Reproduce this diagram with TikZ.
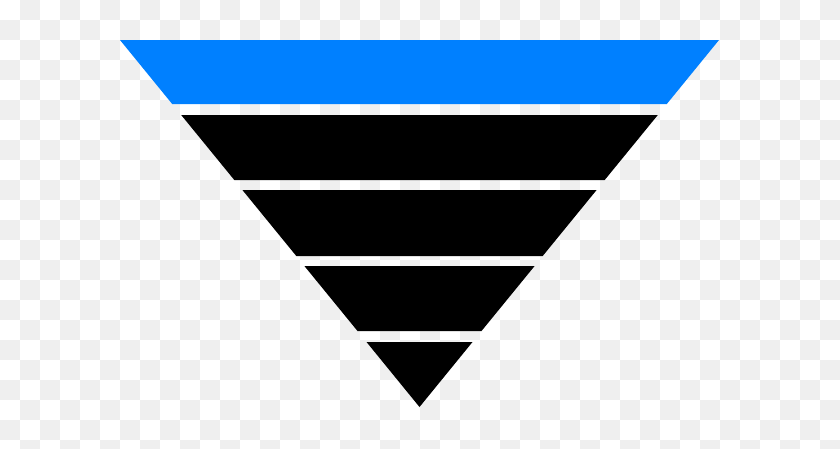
\documentclass[tikz,border=0pt]{standalone}
\usepackage{tikz}
\definecolor{funnelblue}{RGB}{0,128,255}
\definecolor{checkgray}{RGB}{239,239,239}

\begin{document}
\begin{tikzpicture}[x=1pt,y=-1pt]
		\useasboundingbox (0,0) rectangle (840,448);
		\clip (0,0) rectangle (840,448);

		% checkerboard background
		\fill[white] (0,0) rectangle (840,448);
		\foreach \i in {0,...,41}
			\foreach \j in {0,...,22}
				{\ifodd\numexpr\i+\j\relax
					\fill[checkgray] (20*\i,20*\j) rectangle (20*\i+20,20*\j+20);
				\fi}

		% funnel bands
		\fill[funnelblue] (120,40) -- (719,40) -- (666.8,104) -- (172.2,104) -- cycle;
		\fill[black] (181.2,115) -- (657.8,115) -- (604.7,180) -- (234.3,180) -- cycle;
		\fill[black] (242.4,190) -- (596.6,190) -- (542.7,256) -- (296.3,256) -- cycle;
		\fill[black] (304.4,266) -- (534.6,266) -- (481.5,331) -- (357.5,331) -- cycle;
		\fill[black] (366.5,342) -- (472.5,342) -- (419.5,407) -- cycle;
	\end{tikzpicture}
\end{document}
